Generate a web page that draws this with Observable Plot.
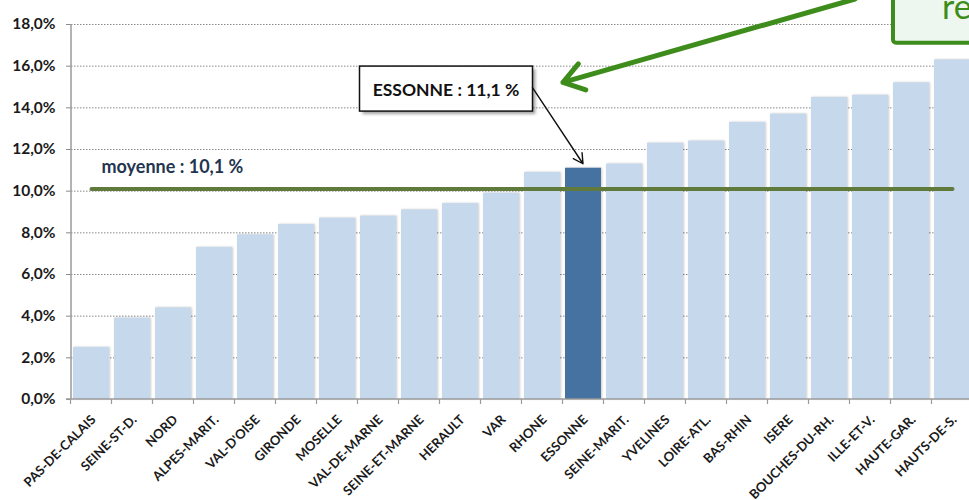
<!DOCTYPE html>
<html lang="fr">
<head>
<meta charset="utf-8">
<script src="https://cdn.jsdelivr.net/npm/d3@7"></script>
<script src="https://cdn.jsdelivr.net/npm/@observablehq/plot@0.6"></script>
<style>
  html, body { margin: 0; padding: 0; background: #ffffff; }
  #chart svg { display: block; }
</style>
</head>
<body>
<div id="chart"></div>
<script>
// Départements, rangés du taux le plus bas au plus haut
const departements = [
  "PAS-DE-CALAIS", "SEINE-ST-D.", "NORD", "ALPES-MARIT.", "VAL-D'OISE",
  "GIRONDE", "MOSELLE", "VAL-DE-MARNE", "SEINE-ET-MARNE", "HERAULT",
  "VAR", "RHONE", "ESSONNE", "SEINE-MARIT.", "YVELINES", "LOIRE-ATL.",
  "BAS-RHIN", "ISERE", "BOUCHES-DU-RH.", "ILLE-ET-V.", "HAUTE-GAR.", "HAUTS-DE-S."
];
// Taux en %
const taux = [
  2.5, 3.9, 4.4, 7.3, 7.9,
  8.4, 8.7, 8.8, 9.1, 9.4,
  9.9, 10.9, 11.1, 11.3, 12.3, 12.4,
  13.3, 13.7, 14.5, 14.6, 15.2, 16.3
];
const moyenne = 10.1;
const departementMisEnAvant = "ESSONNE";
const graduationsY = [0, 2, 4, 6, 8, 10, 12, 14, 16, 18];
const libelleMoyenne = "moyenne : 10,1 %";
const libelleEncadre = "ESSONNE : 11,1 %";
const texteEncart = "re";

const donnees = departements.map((dep, i) => ({dep, taux: taux[i]}));
const pct = v => v.toFixed(1).replace(".", ",") + "%";

const chart = Plot.plot({
  width: 969,
  height: 500,
  marginLeft: 71,
  marginRight: -4,
  marginTop: 24,
  marginBottom: 101,
  style: {fontFamily: "Lato, 'Open Sans', sans-serif", background: "#ffffff", color: "#1a1a1a"},
  x: {domain: departements, paddingInner: 0.12, paddingOuter: 0.06, label: null},
  y: {domain: [0, 18], label: null},
  marks: [
    Plot.gridY(graduationsY.filter(t => t > 0), {stroke: "#8a8a8a", strokeOpacity: 1, strokeWidth: 1, strokeDasharray: "1.5,1.5"}),
    Plot.barY(donnees.filter(d => d.dep !== departementMisEnAvant), {x: "dep", y: "taux", fill: "#c6d8eb"}),
    Plot.barY(donnees.filter(d => d.dep === departementMisEnAvant), {x: "dep", y: "taux", fill: "#4672a1"}),
    Plot.lineY(donnees, {x: "dep", y: () => moyenne, stroke: "#5f7a3b", strokeWidth: 4}),
    Plot.text([moyenne], {
      x: () => departements[0], y: d => d, text: () => libelleMoyenne,
      dx: 10, dy: -22, textAnchor: "start", fontSize: 18, fontWeight: "bold", fill: "#1f3550"
    }),
    Plot.axisY({
      ticks: graduationsY, tickFormat: pct, tickSize: 5, tickPadding: 11,
      fontSize: 15.5, fontWeight: "bold", color: "#1a1a1a"
    }),
    Plot.axisX({
      tickSize: 0, tickRotate: -45, tickPadding: 18, dx: 2,
      fontSize: 13, fontWeight: "bold", color: "#1a1a1a"
    })
  ]
});

document.getElementById("chart").appendChild(chart);

// Habillage dessiné à partir des échelles du graphique
const svg = d3.select(chart);
const xs = chart.scale("x");
const ys = chart.scale("y");
const bw = xs.bandwidth;
const step = xs.step;
const cx = d => xs.apply(d) + bw / 2;
const [y0px, ytop] = [ys.apply(0), ys.apply(18)];
const axisLeft = xs.range[0];
const axisRight = xs.range[1];

// ombre légère des barres
svg.selectAll("g[aria-label='bar']").style("filter", "drop-shadow(1.5px 0px 1px rgba(0,0,0,0.2))");
// graduations de l'axe Y en gris
svg.selectAll("g[aria-label='y-axis tick'] path").attr("stroke", "#8a8a8a");

const deco = svg.append("g");
// axe vertical
deco.append("line")
  .attr("x1", axisLeft).attr("x2", axisLeft).attr("y1", ytop).attr("y2", y0px)
  .attr("stroke", "#9a9a9a").attr("stroke-width", 1.5);
// axe horizontal
deco.append("line")
  .attr("x1", axisLeft - 5).attr("x2", axisRight).attr("y1", y0px).attr("y2", y0px)
  .attr("stroke", "#9a9a9a").attr("stroke-width", 1.5);
// graduations entre catégories
const bornes = departements.map(d => xs.apply(d) - (step - bw) / 2);
bornes.push(xs.apply(departements[departements.length - 1]) + bw + (step - bw) / 2);
deco.selectAll("line.b").data(bornes).join("line")
  .attr("x1", d => d).attr("x2", d => d).attr("y1", y0px).attr("y2", y0px + 5)
  .attr("stroke", "#9a9a9a").attr("stroke-width", 1.2);

// encadré « ESSONNE »
const bx = cx(departementMisEnAvant) - 137;
const by = ys.apply(14.9);
const bwid = 173, bhei = 45;
const enc = svg.append("g");
enc.append("rect")
  .attr("x", bx - bwid / 2 + 3).attr("y", by - bhei / 2 + 3).attr("width", bwid).attr("height", bhei)
  .attr("fill", "rgba(0,0,0,0.35)").style("filter", "blur(1.5px)");
enc.append("rect")
  .attr("x", bx - bwid / 2).attr("y", by - bhei / 2).attr("width", bwid).attr("height", bhei)
  .attr("fill", "#ffffff").attr("stroke", "#111").attr("stroke-width", 1.5);
enc.append("text")
  .attr("x", bx).attr("y", by + 7).attr("text-anchor", "middle")
  .attr("font-family", "Lato, sans-serif").attr("font-size", 17.5).attr("font-weight", "bold").attr("fill", "#111")
  .text(libelleEncadre);

function fleche(g, x1, y1, x2, y2, len, ang, color, width) {
  const dx = x1 - x2, dy = y1 - y2, n = Math.hypot(dx, dy);
  const ux = dx / n, uy = dy / n;
  const rot = a => [x2 + len * (ux * Math.cos(a) - uy * Math.sin(a)), y2 + len * (ux * Math.sin(a) + uy * Math.cos(a))];
  const [a1, a2] = [rot(ang), rot(-ang)];
  g.append("path")
    .attr("d", `M${x1},${y1}L${x2},${y2}M${a1[0]},${a1[1]}L${x2},${y2}L${a2[0]},${a2[1]}`)
    .attr("fill", "none").attr("stroke", color).attr("stroke-width", width)
    .attr("stroke-linecap", "round").attr("stroke-linejoin", "round");
}

// flèche noire vers la barre mise en avant
fleche(enc, bx + bwid / 2, ys.apply(14.95), cx(departementMisEnAvant), ys.apply(11.1) - 4, 11, 0.5, "#111", 1.4);

// encart vert en haut à droite et sa flèche
const encart = svg.append("g");
fleche(encart, cx("BOUCHES-DU-RH.") + 26, ys.apply(19.2), cx(departementMisEnAvant) - 20, ys.apply(15.2), 24, 0.6, "#3e8d1c", 5);
const gx = xs.apply("HAUTE-GAR.");
const gb = ys.apply(17.1);
encart.append("rect")
  .attr("x", gx).attr("y", -20).attr("width", 120).attr("height", gb + 20)
  .attr("rx", 3).attr("fill", "#eef7ef").attr("stroke", "#3e8d1c").attr("stroke-width", 4);
encart.append("text")
  .attr("x", gx + 49).attr("y", gb - 24).attr("text-anchor", "start")
  .attr("font-family", "Lato, sans-serif").attr("font-size", 34).attr("fill", "#3e8d1c")
  .text(texteEncart);
</script>
</body>
</html>
